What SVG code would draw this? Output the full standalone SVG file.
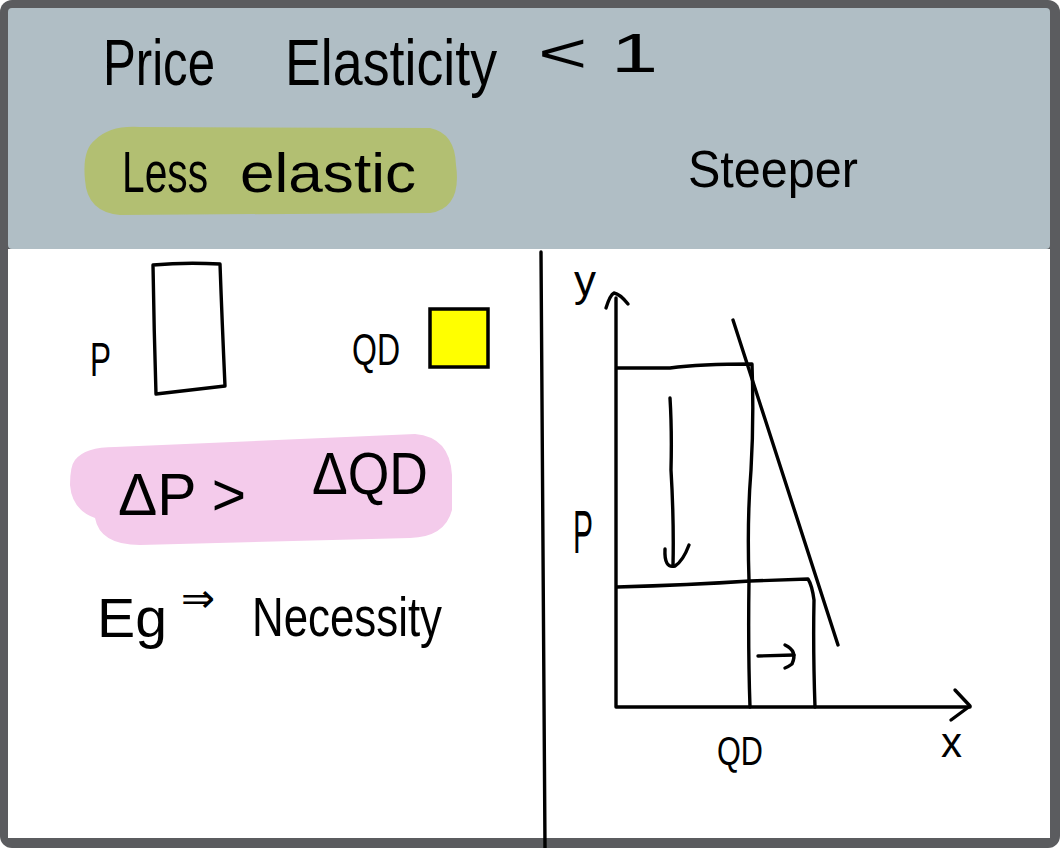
<svg xmlns="http://www.w3.org/2000/svg" width="1060" height="848" viewBox="0 0 1060 848">
<style>
.t{font-family:"Liberation Sans","DejaVu Sans",sans-serif;fill:#000}
.ln{fill:none;stroke:#000;stroke-width:3.4;stroke-linecap:round;stroke-linejoin:round}
</style>
<g id="frame">
<rect x="0" y="0" width="1060" height="848" rx="12" fill="#5b5c5f"/>
<rect x="8" y="8" width="1042" height="241" rx="4" fill="#b0bec5"/>
<rect x="8" y="249" width="1042" height="589" fill="#ffffff"/>
</g>
<g id="title">
<text class="t" x="103" y="85" font-size="64" textLength="112" lengthAdjust="spacingAndGlyphs">Price</text>
<text class="t" x="285" y="85" font-size="64" textLength="212" lengthAdjust="spacingAndGlyphs">Elasticity</text>
<text class="t" x="538" y="72" font-size="56" textLength="120" lengthAdjust="spacingAndGlyphs">&lt; 1</text>
</g>
<g id="less-elastic">
<path d="M95 140 Q110 125 140 127 L430 128 Q455 133 456 165 Q462 208 430 213 L120 215 Q87 212 85 180 Q82 150 95 140 Z" fill="#b2bf72"/>
<text class="t" x="122" y="192" font-size="58" textLength="86" lengthAdjust="spacingAndGlyphs">Less</text>
<text class="t" x="240" y="192" font-size="56" textLength="176" lengthAdjust="spacingAndGlyphs">elastic</text>
</g>
<g id="steeper">
<text class="t" x="688" y="187" font-size="52" textLength="170" lengthAdjust="spacingAndGlyphs">Steeper</text>
</g>
<g id="divider">
<path class="ln" d="M541 252 L545 848"/>
</g>
<g id="p-box">
<text class="t" x="90" y="376" font-size="48" textLength="21" lengthAdjust="spacingAndGlyphs">P</text>
<path class="ln" d="M153 265 Q185 262 220 264 Q222 320 225 386 Q190 390 156 394 Q154 330 153 265 Z"/>
</g>
<g id="qd-box">
<text class="t" x="352" y="365" font-size="44" textLength="48" lengthAdjust="spacingAndGlyphs">QD</text>
<rect x="430" y="309" width="58" height="58" fill="#ffff00" stroke="#000" stroke-width="3.5"/>
</g>
<g id="comparison">
<path d="M75 460 Q85 447 115 447 L415 434 Q450 437 452 475 L452 510 Q445 537 410 538 L140 545 Q100 545 95 518 Q72 510 70 485 Q70 466 75 460 Z" fill="#f4cbeb"/>
<text class="t" x="118" y="515" font-size="60" textLength="128" lengthAdjust="spacingAndGlyphs">ΔP &gt;</text>
<text class="t" x="312" y="494" font-size="60" textLength="116" lengthAdjust="spacingAndGlyphs">ΔQD</text>
</g>
<g id="example">
<text class="t" x="97" y="637" font-size="56" textLength="70" lengthAdjust="spacingAndGlyphs">Eg</text>
<text class="t" x="181" y="612" font-size="40" textLength="34" lengthAdjust="spacingAndGlyphs">⇒</text>
<text class="t" x="252" y="636" font-size="56" textLength="190" lengthAdjust="spacingAndGlyphs">Necessity</text>
</g>
<g id="graph">
<text class="t" x="574" y="296" font-size="44" textLength="22" lengthAdjust="spacingAndGlyphs">y</text>
<text class="t" x="573" y="553" font-size="62" textLength="20" lengthAdjust="spacingAndGlyphs">P</text>
<text class="t" x="717" y="765" font-size="40" textLength="46" lengthAdjust="spacingAndGlyphs">QD</text>
<text class="t" x="941" y="757" font-size="42" textLength="21" lengthAdjust="spacingAndGlyphs">x</text>
<g id="connectors">
<path class="ln" d="M616 298 L616 707 L970 707"/>
<path class="ln" d="M606 308 Q610 295 614 293 Q620 294 628 304"/>
<path class="ln" d="M955 690 L970 706 L951 720"/>
<path class="ln" d="M617 368 L670 368 Q700 364 752 364 Q754 420 751 470 Q747 520 749 580 Q748 650 750 707"/>
<path class="ln" d="M617 587 Q690 585 750 581 L808 579 Q812 585 814 600 Q813 650 815 707"/>
<path class="ln" d="M733 320 L838 645"/>
<path class="ln" d="M670 398 Q672 430 671 470 Q674 520 673 566"/>
<path class="ln" d="M665 549 Q664 569 675 566 Q683 561 689 545"/>
<path class="ln" d="M758 656 L794 655"/>
<path class="ln" d="M785 645 Q798 651 792 664 Q788 667 785 668"/>
</g>
</g>
</svg>
